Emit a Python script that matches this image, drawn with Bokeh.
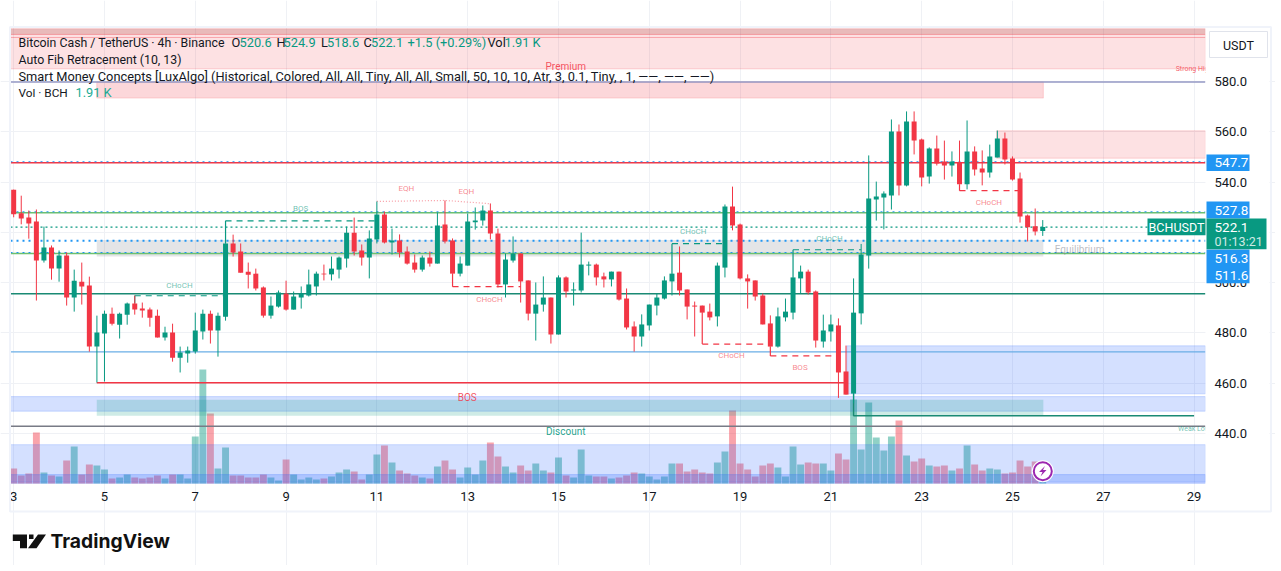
from bokeh.plotting import figure
from bokeh.embed import file_html
from bokeh.resources import INLINE
from bokeh.core.properties import value
from bokeh.models import (FixedTicker, Label, PolyAnnotation, NumeralTickFormatter, Range1d)

# ---------------- chart data ----------------
first_day = 3
bars_per_day = 6
opens = [537.0,527.6,525.9,524.3,508.8,514.0,505.6,510.8,494.1,500.4,
 498.9,474.6,479.8,487.7,483.3,487.3,491.7,489.7,489.3,486.9,
 478.2,480.2,470.2,471.8,472.6,480.6,487.7,481.0,486.5,515.6,
 512.4,504.4,503.6,498.1,486.9,490.5,495.7,489.3,494.1,494.9,
 498.5,503.6,503.3,505.2,509.6,519.9,512.8,510.0,517.2,527.1,
 516.0,516.8,512.4,508.0,505.2,510.0,507.6,523.1,516.8,503.6,
 506.8,524.0,524.7,528.7,519.6,499.3,508.8,511.6,500.9,487.7,
 491.3,494.1,479.4,502.1,496.9,496.9,506.8,507.2,502.5,501.3,
 504.4,493.7,482.6,478.6,483.0,490.9,493.7,500.5,504.0,497.3,
 490.9,490.9,488.5,486.6,506.0,530.3,523.1,501.7,500.9,494.9,
 483.8,474.6,486.2,488.1,501.7,504.4,496.5,476.6,480.6,483.0,
 464.7,455.9,487.8,510.8,533.1,533.9,534.7,560.1,538.6,564.1,
 556.9,542.2,553.4,548.2,546.6,547.8,539.1,552.2,545.4,543.8,
 549.8,557.3,549.4,541.4,526.7,522.4,520.6]
closes = [527.2,525.5,523.5,508.8,514.0,505.6,510.8,494.1,500.8,498.5,
 474.6,480.2,487.7,483.7,487.7,491.7,489.3,488.9,486.1,478.2,
 480.2,470.2,472.2,473.0,481.0,487.7,481.0,486.9,515.6,512.0,
 504.0,503.2,497.7,486.9,490.9,496.1,489.3,494.5,495.7,499.3,
 503.6,503.3,505.6,510.0,519.9,512.4,510.0,517.6,527.1,516.0,
 516.8,512.0,507.6,505.2,510.0,507.6,522.7,516.4,503.6,507.6,
 524.3,524.7,528.7,519.6,499.3,509.2,511.6,500.5,487.7,491.3,
 494.1,479.4,502.1,496.5,497.3,507.2,507.2,502.1,501.3,504.4,
 493.3,482.2,478.6,483.4,491.3,494.1,500.9,503.6,496.9,490.5,
 490.5,488.1,486.2,506.8,530.3,522.7,501.7,500.5,494.5,483.4,
 474.6,486.6,488.5,502.1,504.4,496.1,477.0,481.0,483.4,464.3,
 455.5,488.1,511.2,533.5,534.3,535.5,560.1,538.6,564.1,556.5,
 541.8,553.4,547.4,546.6,548.2,539.1,552.2,545.0,543.8,550.2,
 557.3,549.0,541.0,526.3,522.0,520.4,522.1]
highs = [537.0,534.6,528.7,529.1,522.3,514.8,512.8,512.0,505.2,508.0,
 502.4,486.9,488.9,490.1,488.1,492.1,494.9,492.1,490.1,489.3,
 482.5,483.7,474.6,474.6,488.1,489.3,488.9,488.1,515.6,519.1,
 515.6,508.0,505.6,498.5,494.5,496.9,500.8,496.5,498.5,505.2,
 504.4,507.2,510.4,510.4,522.3,525.9,515.2,520.8,532.3,528.3,
 521.5,519.2,514.4,511.2,510.8,512.4,527.9,532.7,517.6,510.4,
 527.5,529.9,530.7,531.5,521.5,511.6,518.4,511.6,500.9,500.1,
 502.5,494.1,502.9,502.5,500.1,519.9,508.4,507.6,504.0,504.4,
 504.4,497.7,484.6,487.4,491.3,495.7,502.5,503.6,514.4,497.3,
 492.5,490.9,491.7,508.0,531.1,538.2,523.5,503.3,500.9,495.7,
 487.0,490.1,493.7,502.1,506.8,505.2,496.9,487.3,487.3,485.8,
 475.0,501.7,515.4,550.6,540.2,536.3,564.9,562.9,568.1,568.1,
 557.3,553.8,558.5,556.5,552.2,556.5,564.5,554.2,552.6,554.9,
 560.5,559.7,550.2,543.8,527.1,529.5,524.9]
lows = [526.0,523.2,517.5,492.9,508.0,501.2,500.4,490.9,488.5,491.3,
 472.6,460.3,460.7,483.0,477.8,483.3,487.3,486.1,482.5,478.2,
 477.0,468.6,464.3,468.2,471.8,477.4,475.8,470.6,484.9,510.4,
 504.0,497.7,496.9,486.1,485.7,490.1,488.9,489.3,489.7,494.5,
 494.9,500.9,500.9,501.7,506.0,510.8,506.8,501.7,515.6,515.6,
 511.2,510.0,507.2,504.0,504.4,506.4,507.6,515.6,503.6,502.5,
 506.8,521.1,522.7,517.2,498.1,494.1,508.0,492.1,485.0,477.0,
 488.5,475.8,479.4,494.1,490.9,496.1,502.9,498.9,498.1,498.5,
 492.9,481.4,472.6,474.6,481.0,487.0,493.3,494.9,494.9,485.4,
 478.6,488.1,485.0,482.6,502.1,520.8,501.3,489.7,492.9,483.4,
 474.6,474.2,484.6,485.4,495.7,495.3,474.2,474.2,476.6,454.2,
 455.5,452.0,483.4,505.6,524.7,521.2,529.1,534.7,538.3,551.0,
 538.3,539.4,546.6,541.0,542.2,539.1,537.1,542.6,538.7,541.8,
 549.8,547.0,540.6,523.9,516.4,518.8,518.6]
volumes = [15,8,10,51,11,8,7,23,37,9,
 19,18,14,5,6,9,6,5,6,8,
 5,9,9,5,47,114,70,15,36,8,
 8,6,6,9,6,3,24,9,4,6,
 4,5,7,11,14,12,4,9,29,38,
 21,13,10,8,6,5,17,23,14,6,
 16,9,23,41,27,17,11,18,13,20,
 13,11,26,8,6,34,8,7,7,5,
 6,8,11,10,7,4,7,20,20,12,
 14,11,10,21,32,73,20,14,7,18,
 20,16,7,37,19,21,20,20,13,30,
 24,84,34,81,46,33,47,63,28,22,
 25,18,17,18,13,15,38,19,13,15,
 14,10,11,23,17,22,1.91]

price_ticks = [440, 460, 480, 500, 520, 540, 560, 580]
day_ticks = [3, 5, 7, 9, 11, 13, 15, 17, 19, 21, 23, 25, 27, 29]

last_price = 522.1
level_pink = 597.5
level_fib_top = 579.8
level_red = 547.7
level_green_hi = 527.8
level_blue_hi = 516.3
level_green_lo = 511.6
level_teal = 495.6
level_blue = 472.5
level_grey = 442.9

# zones: left day, right day, top price, bottom price
day_l, day_r = 2.93, 29.25
zone_left = 4.83
zone_end = 25.68
pink_left = [day_l, day_l, zone_left, 24.65]
pink_right = [day_r, day_r, zone_end, day_r]
pink_top = [601.0, 598.7, 579.8, 560.4]
pink_bottom = [598.7, 585.0, 573.4, 549.5]
pink_color = ["#b71c1c", "#f23645", "#f23645", "#f23645"]
pink_alpha = [0.30, 0.15, 0.20, 0.15]
blue_left = [21.35, day_l, day_l, day_l]
blue_right = [day_r, day_r, day_r, day_r]
blue_top = [474.9, 454.7, 435.6, 423.7]
blue_bottom = [455.8, 448.9, 420.2, 420.7]
teal_zone = (zone_left, zone_end, 453.5, 447.1)
grey_zone = (zone_left, zone_end, 517.0, 510.4)

# market-structure dashed lines: first bar, last bar, price, bullish or not
struct_from = [16, 28, 58, 87, 91, 100, 103, 125]
struct_to = [28, 48, 67, 94, 100, 109, 112, 133]
struct_y = [494.8, 524.6, 498.4, 515.5, 475.6, 470.9, 513.1, 536.6]
struct_up = [True, True, False, True, False, False, True, False]

# annotation labels: text, day, price, size, colour, alpha
note_text = ["CHoCH","BOS","EQH","EQH","CHoCH","CHoCH","CHoCH","BOS","CHoCH","CHoCH","BOS","Discount","Premium","Equilibrium","Strong High","Weak Low"]
note_day = [6.65,9.32,11.65,12.97,13.48,17.97,18.81,20.32,20.97,24.48,12.99,15.16,15.16,26.48,29.0,29.0]
note_price = [498.7,529.6,537.6,536.4,493.4,520.5,471.2,466.2,517.7,531.8,454.5,441.0,586.0,513.3,584.9,442.0]
note_size = [8,8,8,8,8,8,8,8,8,8,10,10,10,10,7,7]
note_color = ["#089981","#089981","#f23645","#f23645","#f23645","#089981","#f23645","#f23645","#089981","#f23645","#f23645","#089981","#f23645","#787b86","#f23645","#089981"]
note_alpha = [0.6,0.6,0.6,0.6,0.6,0.6,0.6,0.6,0.6,0.6,0.85,0.9,0.85,0.5,0.8,0.6]

FONT = "Roboto"
GREEN, RED = "#089981", "#f23645"
BLUE = "#2196f3"
W, H = 1275, 565
LEFT, RIGHT, TOP, BOTTOM = 10, 1205, 28, 483
y_top = 601.07

assert len(opens) == len(closes) == len(highs) == len(lows) == len(volumes)

def xd(px):
    return day_l + (px - LEFT) / 45.4
def yd(py):
    return y_top - (py - TOP) / 2.515

# ---------------- figure ----------------
# The frame fills the canvas and the axes sit at fixed locations, so the tags and
# the logo around the price pane stay visible.
p = figure(width=W, height=H, output_backend="svg", toolbar_location=None,
           x_range=Range1d(xd(0), xd(W)), y_range=Range1d(yd(H), yd(0)),
           y_axis_location="right", min_border=0,
           background_fill_color="white", border_fill_color="white",
           outline_line_color=None)
p.grid.grid_line_color = "#eff1f5"
p.grid.grid_line_width = 1
p.xgrid.ticker = FixedTicker(ticks=day_ticks)
p.ygrid.ticker = FixedTicker(ticks=price_ticks)
p.xgrid.bounds = (yd(BOTTOM), yd(TOP))
p.ygrid.bounds = (day_l, day_r)
p.xaxis.ticker = FixedTicker(ticks=day_ticks)
p.yaxis.ticker = FixedTicker(ticks=price_ticks)
p.xaxis.fixed_location = yd(BOTTOM)
p.yaxis.fixed_location = day_r
p.yaxis.formatter = NumeralTickFormatter(format="0.0")
for ax in (p.xaxis[0], p.yaxis[0]):
    ax.axis_line_color = None
    ax.major_tick_line_color = None
    ax.minor_tick_line_color = None
    ax.major_tick_in = 0
    ax.major_tick_out = 0
    ax.major_label_text_font = FONT
    ax.major_label_text_font_size = "13px"
    ax.major_label_text_color = "#131722"
p.xaxis.major_label_standoff = 8
p.yaxis.major_label_standoff = 9

days = [first_day + n / bars_per_day for n in range(len(closes))]
cols = [GREEN if c >= o else RED for o, c in zip(opens, closes)]

# volume on its own scale: 1 K = 1 pixel of the pane, under the zones
p.extra_y_ranges = {"vol": Range1d(BOTTOM - H, BOTTOM)}
p.vbar(x=days, top=volumes, bottom=0, width=0.152, y_range_name="vol",
       fill_color=cols, fill_alpha=0.45, line_color=None)

# zones
p.quad(left=pink_left, right=pink_right, top=pink_top, bottom=pink_bottom,
       fill_color=pink_color, fill_alpha=pink_alpha, line_color=RED, line_alpha=0.18, line_width=1)
p.quad(left=blue_left, right=blue_right, top=blue_top, bottom=blue_bottom,
       fill_color="#2962ff", fill_alpha=[0.2, 0.2, 0.2, 0.22], line_color="#2962ff", line_alpha=0.2, line_width=1)
p.quad(left=[teal_zone[0]], right=[teal_zone[1]], top=[teal_zone[2]], bottom=[teal_zone[3]],
       fill_color=GREEN, fill_alpha=0.2, line_color=None)
p.quad(left=[grey_zone[0]], right=[grey_zone[1]], top=[grey_zone[2]], bottom=[grey_zone[3]],
       fill_color="#787b86", fill_alpha=0.2, line_color=None)

# horizontal levels
p.line([day_l, day_r], [level_pink, level_pink], line_color=RED, line_alpha=0.35, line_width=1)
for lev, col in [(level_fib_top, "#9598c4"), (level_red, RED), (level_green_hi, "#6cc070"),
                 (level_green_lo, "#6cc070"), (level_teal, "#1a8a74"),
                 (level_blue, "#6aaee6"), (level_grey, "#787b86")]:
    p.line([day_l, day_r], [lev, lev], line_color=col, line_width=1.4)
for lev, wid in [(level_red, 1), (level_green_hi, 1), (level_blue_hi, 2), (level_green_lo, 1)]:
    p.line([day_l, day_r], [lev + 0.4, lev + 0.4], line_color=BLUE, line_width=wid, line_dash=[2, 4])
p.line([day_l, xd(1147)], [last_price, last_price], line_color=GREEN, line_width=1.2, line_dash=[2, 3])

# support / resistance solid
p.line([zone_left, 21.35], [460.2, 460.2], line_color=RED, line_width=1.4)
p.line([days[111], days[111], 29.0], [455.9, 447.1, 447.1], line_color="#1a8a74", line_width=1.4)

# structure lines
for n0, n1, y, up in zip(struct_from, struct_to, struct_y, struct_up):
    col = GREEN if up else RED
    p.line([days[n0], days[n1]], [y, y], line_color=col, line_width=1.2, line_dash=[6, 5])
    edge = max(opens[n0], closes[n0]) if up else min(opens[n0], closes[n0])
    p.line([days[n0], days[n0]], [edge, y], line_color=col, line_width=1.2)
p.line([days[48], days[57], days[63]], [532.3, 532.7, 531.4], line_color=RED, line_alpha=0.5,
       line_width=1.2, line_dash=[1, 2])

# candles
p.segment(x0=days, x1=days, y0=lows, y1=highs, line_color=cols, line_width=1)
p.vbar(x=days, top=[max(o, c) for o, c in zip(opens, closes)], bottom=[min(o, c) for o, c in zip(opens, closes)],
       width=0.11, fill_color=cols, line_color=None)

# notes
p.text(x=note_day, y=note_price, text=note_text, text_font=value(FONT),
       text_font_size=[f"{s}px" for s in note_size], text_color=note_color, text_alpha=note_alpha,
       text_align="center", text_baseline="middle")

# the pane ends at the price scale: hide what runs past its right edge
p.quad(left=[day_r], right=[xd(1269)], top=[yd(27)], bottom=[yd(510)], fill_color="white", line_color=None)

# lightning icon
p.scatter([xd(1042.3)], [yd(470.7)], size=22, marker="circle", fill_color="white", line_color=None)
p.scatter([xd(1042.3)], [yd(470.7)], size=18, marker="circle", fill_color="white", line_color="#9c27b0", line_width=2)
p.patch([xd(v) for v in (1044.5, 1038.5, 1042, 1040, 1046, 1042.5)],
        [yd(v) for v in (465.5, 471.5, 471.5, 476, 469.5, 469.5)], fill_color="#9c27b0", line_color=None)

# ---------------- tags, legend, logo ----------------
def box(x0, x1, y0, y1, fill=None, line=None, lw=1):
    p.add_layout(PolyAnnotation(xs=[xd(x0), xd(x1), xd(x1), xd(x0)], ys=[yd(y0), yd(y0), yd(y1), yd(y1)],
                                fill_color=fill, fill_alpha=1.0 if fill else 0, line_color=line,
                                line_width=lw, line_alpha=1.0 if line else 0))

def label(px, py, txt, size=12.8, color="#131722", align="left", font=FONT, style="normal"):
    p.add_layout(Label(x=xd(px), y=yd(py), text=txt, text_font=font, text_font_size=f"{size}px", text_color=color,
                       text_align=align, text_baseline="middle", text_font_style=style))

box(9.5, 1270.5, 26.5, 511, None, "#f0f3fa", 2)

for y0, y1, txt in [(154, 170.5, "547.7"), (201, 218, "527.8"), (249, 266.5, "516.3"), (266.5, 282.7, "511.6")]:
    box(1206, 1249, y0, y1, BLUE)
    label(1214, (y0 + y1) / 2, txt, 13.5, "white")
box(1147, 1205, 218, 234.7, GREEN)
label(1176, 226.5, "BCHUSDT", 12.5, "white", "center")
box(1206, 1266, 218, 248.7, GREEN)
label(1214, 226.5, "522.1", 13.5, "white")
label(1214, 241, "01:13:21", 12.5, "#cfe9e4")
box(1209, 1267, 31, 57, "white", "#e0e3eb", 1)
label(1238, 44.5, "USDT", 12.5, "#131722", "center")

TEAL = "#089981"
label(18, 42, "Bitcoin Cash / TetherUS · 4h · Binance", 12.3)
label(231, 42, "O"); label(239, 42, "520.6", color=TEAL)
label(276, 42, "H"); label(283, 42, "524.9", color=TEAL)
label(320.5, 42, "L"); label(326.5, 42, "518.6", color=TEAL)
label(363, 42, "C"); label(370.5, 42, "522.1", color=TEAL)
label(407, 42, "+1.5 (+0.29%)", color=TEAL)
label(487, 42, "Vol"); label(504, 42, "1.91 K", color=TEAL)
label(18, 59, "Auto Fib Retracement (10, 13)", 12.3)
label(18, 75.5, "Smart Money Concepts [LuxAlgo] (Historical, Colored, All, All, Tiny, All, All, Small, 50, 10, 10, Atr, 3, 0.1, Tiny, , 1, ——, ——, ——)")
label(18, 92, "Vol · BCH", 11.8)
label(75, 92, "1.91 K", color="#22ab94")

for xs, ys in [((12.3, 26.5, 26.5, 19.5, 19.5, 12.3), (534, 534, 547.7, 547.7, 540.5, 540.5)),
               ((37.5, 45.5, 36, 27.5), (534, 534, 547.7, 547.7))]:
    p.add_layout(PolyAnnotation(xs=[xd(v) for v in xs], ys=[yd(v) for v in ys], fill_color="#111111",
                                fill_alpha=1, line_color=None))
box(28.5, 33, 534, 538.5, "#111111")
label(50, 540.5, "TradingView", 19.3, "#111111", font="Inter", style="bold")

open("out.html", "w").write(file_html(p, INLINE))
